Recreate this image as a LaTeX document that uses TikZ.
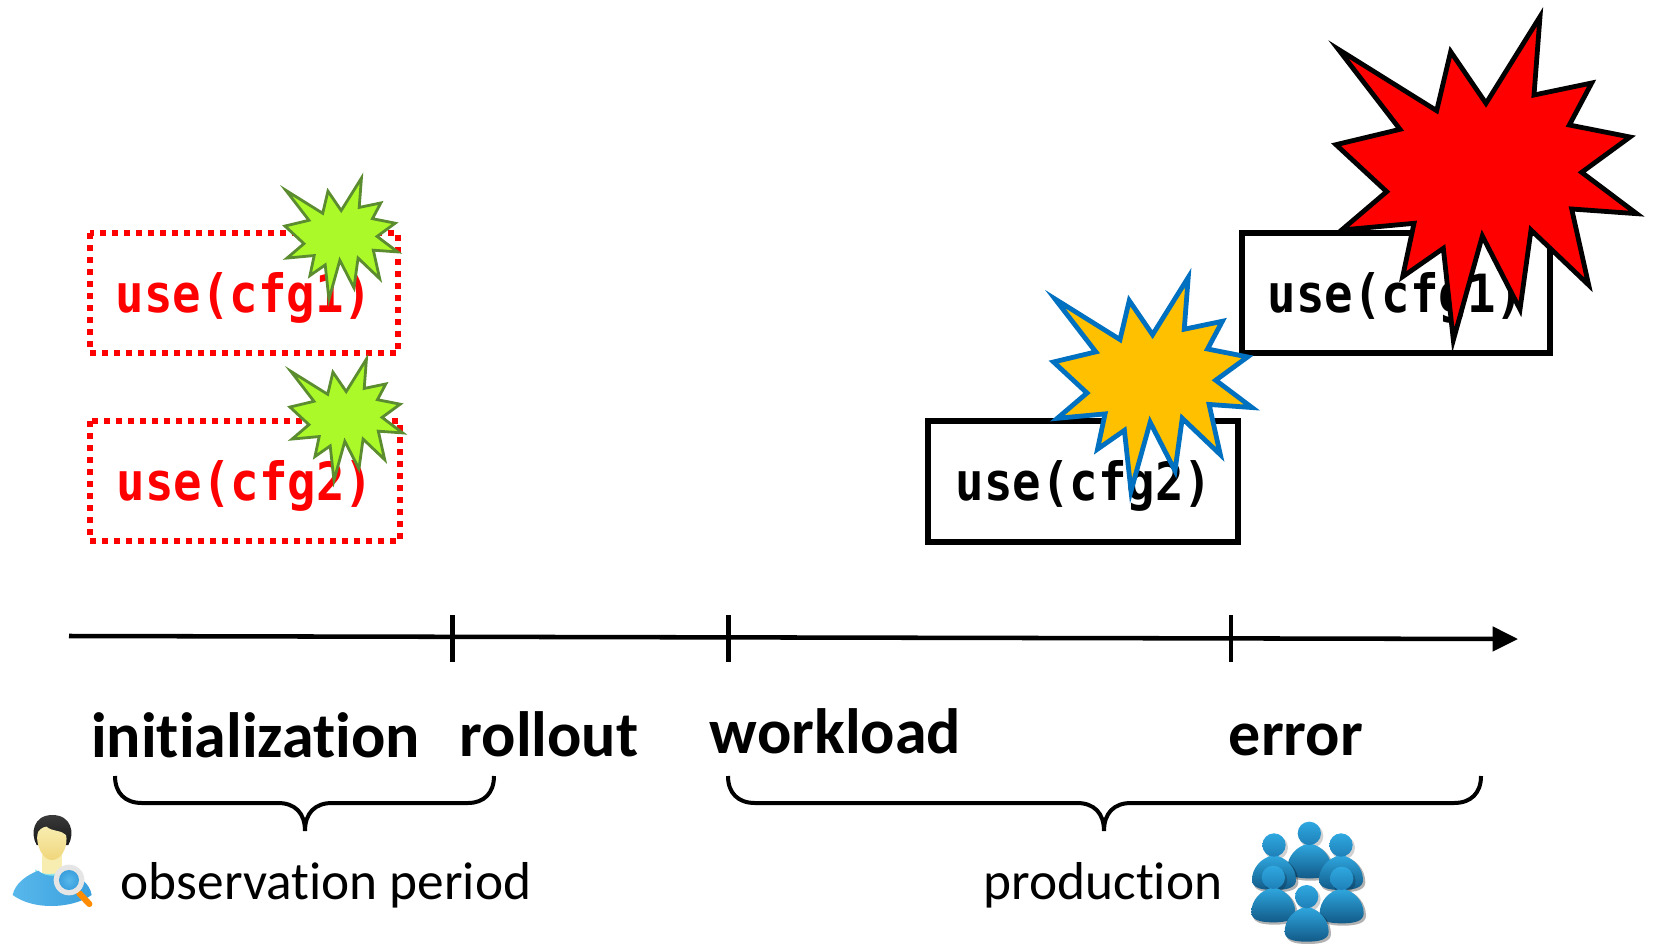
\documentclass[tikz,border=0pt]{standalone}
\usepackage{fontspec}
\setmainfont[Ligatures=NoCommon]{Carlito}
\newfontfamily\cfgfont[FakeStretch=0.9,BoldFont={DejaVu Sans Mono Bold},BoldFeatures={FakeStretch=0.9}]{DejaVu Sans Mono}
\usetikzlibrary{arrows.meta}
\definecolor{cfgred}{HTML}{FF0000}
\definecolor{greenfill}{HTML}{ABF928}
\definecolor{greenline}{HTML}{5B8C30}
\definecolor{orangefill}{HTML}{FFC000}
\definecolor{blueline}{HTML}{0070C0}
\definecolor{headA}{HTML}{2FA8E0}
\definecolor{headB}{HTML}{1F80B8}
\definecolor{bodyB}{HTML}{125A88}
\definecolor{skinA}{HTML}{F8EDB0}
\definecolor{skinB}{HTML}{F0D67C}
\definecolor{shirtA}{HTML}{58B8EC}
\definecolor{shirtB}{HTML}{3A9FDC}
\definecolor{hairA}{HTML}{3A3A3A}
\definecolor{hairB}{HTML}{181818}
\tikzset{
  x=0.75pt,y=-0.75pt,
  cfgtext/.style={font=\cfgfont\bfseries\fontsize{39.5}{40}\selectfont,anchor=base,inner sep=0pt},
  dashbox/.style={draw=cfgred,line width=4.2pt,dash pattern=on 4.5pt off 4.5pt},
  solidbox/.style={draw=black,line width=4.2pt},
  phase/.style={font=\bfseries\fontsize{48}{48}\selectfont,anchor=base,inner sep=0pt},
  period/.style={font=\fontsize{40}{40}\selectfont,anchor=base,inner sep=0pt},
  tickline/.style={line width=3.4pt},
  bracket/.style={line width=3pt},
  burst/.style={miter limit=30,line join=miter},
}
\newcommand{\burstat}[4]{%
  \draw[burst,shift={(#1,#2)},scale=#3,#4]
   (690,50)--(672,285)--(845,249)--(778,375)--(960,411)--(815,517)--(980,641)--(785,627)--(836,855)--(663,690)--(630,928)--(517,708)--(430,1020)--(400,745)--(278,830)--(312,670)--(95,690)--(230,575)--(78,434)--(270,388)--(85,148)--(380,332)--(422,155)--(528,310)--cycle;}
\newcommand{\groupmember}[2]{%
  \begin{scope}[shift={(#1,#2)}]
   \fill[black,opacity=.18] (6,8) circle (36);
   \fill[black,opacity=.3] (4,34) .. controls (-40,40) and (-61,75) .. (-61,112) .. controls (-61,134) and (-40,142) .. (4,142) .. controls (46,142) and (73,134) .. (73,112) .. controls (73,75) and (46,40) .. (4,34) -- cycle;
   \shade[top color=headA,bottom color=bodyB,draw=none] (-66,105) .. controls (-66,70) and (-40,38) .. (0,30) .. controls (40,38) and (66,70) .. (66,105) .. controls (66,128) and (40,135) .. (0,135) .. controls (-40,135) and (-66,128) .. (-66,105) -- cycle;
   \shade[top color=headA,bottom color=headB,draw=none] (0,0) circle (35);
  \end{scope}}
\begin{document}
\begin{tikzpicture}
\useasboundingbox (0,0) rectangle (1653,943);
\fill[white] (0,0) rectangle (1653,943);
% boxes
\draw[dashbox] (90,233) rectangle (398,353);
\draw[dashbox] (90,421) rectangle (400,541);
\draw[solidbox] (928,421) rectangle (1238,542);
\draw[solidbox] (1242,233) rectangle (1550,353);
% texts in boxes
\node[cfgtext,text=cfgred] (t1) at (244,312) {use(cfg1)};
\node[cfgtext,text=cfgred] (t2) at (245,500) {use(cfg2)};
\node[cfgtext] (t3) at (1084,500) {use(cfg2)};
\node[cfgtext] (t4) at (1396,312) {use(cfg1)};
% bursts
\burstat{275.2}{171.8}{0.125}{fill=greenfill,draw=greenline,line width=2.1pt}
\burstat{280.2}{352.8}{0.125}{fill=greenfill,draw=greenline,line width=2.1pt}
\burstat{1036.4}{266.5}{0.22}{fill=orangefill,draw=blueline,line width=3.6pt}
\burstat{1310}{0}{0.33333}{fill=cfgred,draw=black,line width=3.6pt}
% axis
\coordinate (axisL) at (69,636);
\coordinate (axisR) at (1518,639);
\draw[line width=3.4pt,-{Triangle[length=19pt,width=18pt]}] (axisL) -- (axisR);
\coordinate (a1) at (452.5,615); \coordinate (a2) at (452.5,662);
\coordinate (b1) at (728.5,615); \coordinate (b2) at (728.5,662);
\coordinate (c1) at (1231,615); \coordinate (c2) at (1231,662);
\draw[tickline] (a1) -- (a2);
\draw[tickline] (b1) -- (b2);
\draw[tickline] (c1) -- (c2);
% phase labels
\node[phase] (init) at (255.5,757) {initialization};
\node[phase] (roll) at (549,756) {rollout};
\node[phase] (work) at (835.5,753) {workload};
\node[phase] (err) at (1296,755) {error};
% braces
\draw[bracket] (115,776) .. controls (115,793) and (125,803) .. (142,803) -- (278,803) .. controls (295,803) and (305,813) .. (305,831)
  .. controls (305,813) and (315,803) .. (332,803) -- (468,803) .. controls (484,803) and (494,793) .. (494,776);
\draw[bracket] (728,776) .. controls (728,793) and (738,803) .. (755,803) -- (1077,803) .. controls (1094,803) and (1104,813) .. (1104,831)
  .. controls (1104,813) and (1114,803) .. (1131,803) -- (1454,803) .. controls (1471,803) and (1481,793) .. (1481,776);
% period labels
\node[period] (obs) at (326,899) {observation period};
\node[period] (prod) at (1103,899) {production};
% observer icon
\begin{scope}[shift={(0,780)},scale=0.33333]
  \fill[skinA] (125,225) rectangle (185,285);
  \fill[teal!40!cyan!45!white] (105,268) .. controls (125,285) and (170,290) .. (195,265) -- (205,290) -- (110,290) -- cycle;
  \shade[left color=shirtA,right color=shirtB]
    (38,345) .. controls (45,310) and (80,285) .. (115,272) .. controls (135,292) and (175,292) .. (195,272) .. controls (235,285) and (270,310) .. (275,345) .. controls (240,370) and (190,378) .. (155,378) .. controls (110,378) and (70,368) .. (38,345) -- cycle;
  \shade[top color=hairA,bottom color=hairB] (110,195) .. controls (90,160) and (100,105) .. (157,105) .. controls (215,105) and (225,160) .. (205,195) -- cycle;
  \shade[top color=skinA,bottom color=skinB] (112,165) .. controls (112,150) and (130,140) .. (140,140) .. controls (155,155) and (185,150) .. (198,165) .. controls (205,190) and (190,240) .. (155,240) .. controls (125,240) and (108,190) .. (112,165) -- cycle;
  \draw[line width=4.6pt,orange!90!yellow,line cap=round] (238,340) -- (268,372);
  \fill[black!10] (207,300) circle (46);
  \shade[inner color=shirtA,outer color=shirtB] (207,300) circle (30);
\end{scope}
% group icon
\begin{scope}[shift={(1220,800)},scale=0.33333]
  \groupmember{268}{100}
  \groupmember{162}{135}
  \groupmember{363}{135}
  \groupmember{160}{232}
  \groupmember{365}{235}
  \groupmember{260}{290}
\end{scope}
\end{tikzpicture}
\end{document}
